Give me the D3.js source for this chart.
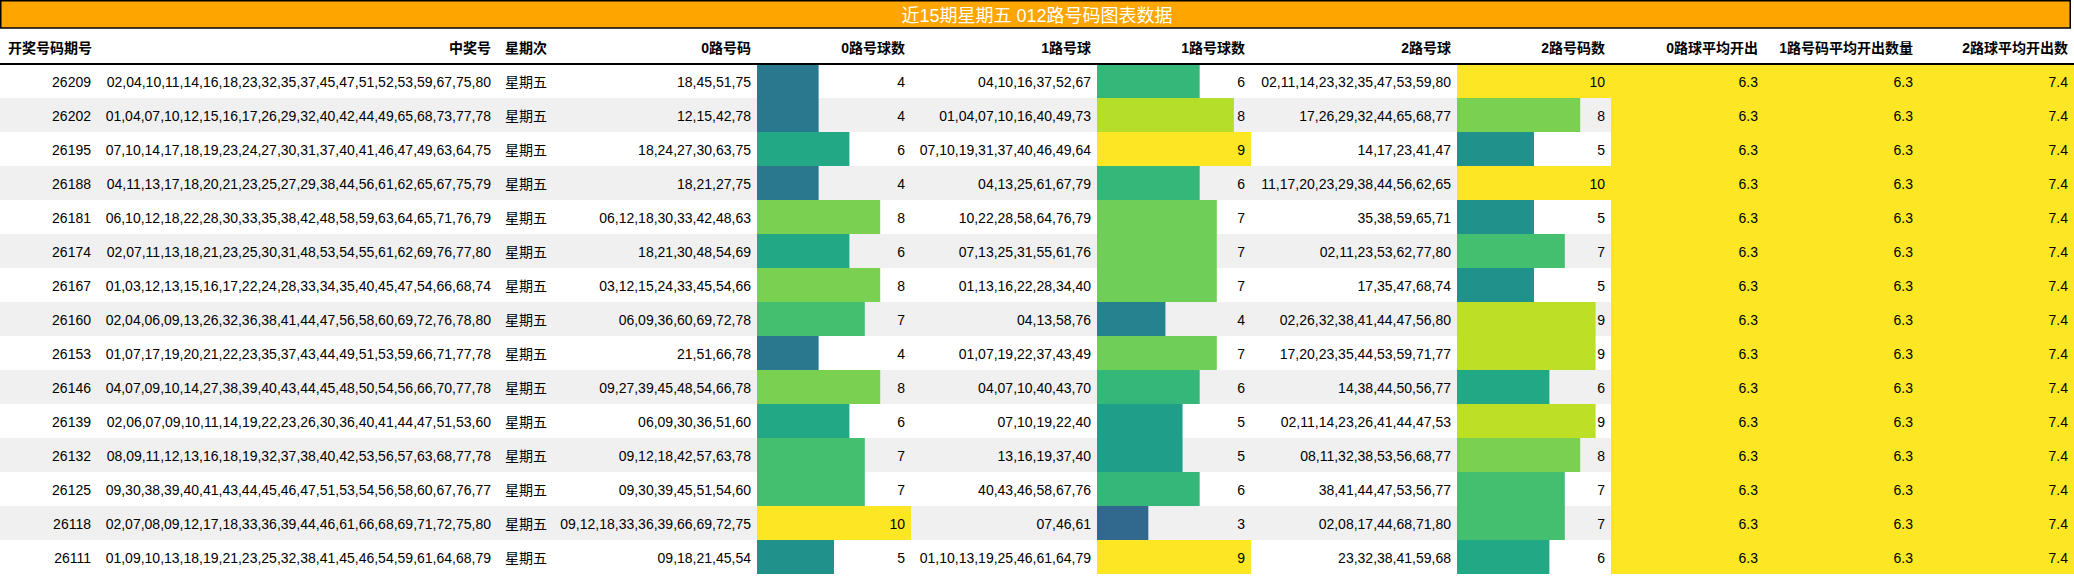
<!DOCTYPE html>
<html><head><meta charset="utf-8">
<script src="https://cdn.jsdelivr.net/npm/d3@7/dist/d3.min.js"></script>
<style>
html,body{margin:0;padding:0;background:#fff;}
svg{display:block;}
text{font-family:"Liberation Sans","Noto Sans CJK SC",sans-serif;}
</style></head>
<body><svg id="chart" width="2074" height="576"></svg>
<script>
// ---------- data ----------
const title = "近15期星期五 012路号码图表数据";
const headers = ["开奖号码期号","中奖号","星期次","0路号码","0路号球数","1路号球","1路号球数","2路号球","2路号码数","0路球平均开出","1路号码平均开出数量","2路球平均开出数"];
const periods = ["26209","26202","26195","26188","26181","26174","26167","26160","26153","26146","26139","26132","26125","26118","26111"];
const winning = [
"02,04,10,11,14,16,18,23,32,35,37,45,47,51,52,53,59,67,75,80",
"01,04,07,10,12,15,16,17,26,29,32,40,42,44,49,65,68,73,77,78",
"07,10,14,17,18,19,23,24,27,30,31,37,40,41,46,47,49,63,64,75",
"04,11,13,17,18,20,21,23,25,27,29,38,44,56,61,62,65,67,75,79",
"06,10,12,18,22,28,30,33,35,38,42,48,58,59,63,64,65,71,76,79",
"02,07,11,13,18,21,23,25,30,31,48,53,54,55,61,62,69,76,77,80",
"01,03,12,13,15,16,17,22,24,28,33,34,35,40,45,47,54,66,68,74",
"02,04,06,09,13,26,32,36,38,41,44,47,56,58,60,69,72,76,78,80",
"01,07,17,19,20,21,22,23,35,37,43,44,49,51,53,59,66,71,77,78",
"04,07,09,10,14,27,38,39,40,43,44,45,48,50,54,56,66,70,77,78",
"02,06,07,09,10,11,14,19,22,23,26,30,36,40,41,44,47,51,53,60",
"08,09,11,12,13,16,18,19,32,37,38,40,42,53,56,57,63,68,77,78",
"09,30,38,39,40,41,43,44,45,46,47,51,53,54,56,58,60,67,76,77",
"02,07,08,09,12,17,18,33,36,39,44,46,61,66,68,69,71,72,75,80",
"01,09,10,13,18,19,21,23,25,32,38,41,45,46,54,59,61,64,68,79"];
const weekday = Array(15).fill("星期五");
const zeroCodes = ["18,45,51,75","12,15,42,78","18,24,27,30,63,75","18,21,27,75","06,12,18,30,33,42,48,63","18,21,30,48,54,69","03,12,15,24,33,45,54,66","06,09,36,60,69,72,78","21,51,66,78","09,27,39,45,48,54,66,78","06,09,30,36,51,60","09,12,18,42,57,63,78","09,30,39,45,51,54,60","09,12,18,33,36,39,66,69,72,75","09,18,21,45,54"];
const zeroCounts = [4,4,6,4,8,6,8,7,4,8,6,7,7,10,5];
const oneCodes = ["04,10,16,37,52,67","01,04,07,10,16,40,49,73","07,10,19,31,37,40,46,49,64","04,13,25,61,67,79","10,22,28,58,64,76,79","07,13,25,31,55,61,76","01,13,16,22,28,34,40","04,13,58,76","01,07,19,22,37,43,49","04,07,10,40,43,70","07,10,19,22,40","13,16,19,37,40","40,43,46,58,67,76","07,46,61","01,10,13,19,25,46,61,64,79"];
const oneCounts = [6,8,9,6,7,7,7,4,7,6,5,5,6,3,9];
const twoCodes = ["02,11,14,23,32,35,47,53,59,80","17,26,29,32,44,65,68,77","14,17,23,41,47","11,17,20,23,29,38,44,56,62,65","35,38,59,65,71","02,11,23,53,62,77,80","17,35,47,68,74","02,26,32,38,41,44,47,56,80","17,20,23,35,44,53,59,71,77","14,38,44,50,56,77","02,11,14,23,26,41,44,47,53","08,11,32,38,53,56,68,77","38,41,44,47,53,56,77","02,08,17,44,68,71,80","23,32,38,41,59,68"];
const twoCounts = [10,8,5,10,5,7,5,9,9,6,9,8,7,7,6];
const avgZero = Array(15).fill(6.3);
const avgOne = Array(15).fill(6.3);
const avgTwo = Array(15).fill(7.4);

// ---------- layout ----------
const W = 2074, titleH = 28, headH = 36, rowH = 34;
const edges = [0,97,497,555,757,911,1097,1251,1457,1611,1764,1919,2074];
const colData = [periods, winning, weekday, zeroCodes, zeroCounts, oneCodes, oneCounts, twoCodes, twoCounts, avgZero, avgOne, avgTwo];
const align = ["right","right","left","right","right","right","right","right","right","right","right","right"];
const headAlign = ["left","right","left","right","right","right","right","right","right","right","right","right"];
const barCols = [4,6,8,9,10,11];
const fmt = [null,null,null,null,d3.format("d"),null,d3.format("d"),null,d3.format("d"),d3.format(".1f"),d3.format(".1f"),d3.format(".1f")];

const svg = d3.select("#chart");
const y = d3.scaleBand().domain(d3.range(periods.length)).range([titleH+headH, titleH+headH+rowH*periods.length]);

// row stripes
svg.append("g").selectAll("rect").data(periods).join("rect")
  .attr("x",0).attr("width",W).attr("y",(d,i)=>y(i)).attr("height",y.bandwidth())
  .attr("fill",(d,i)=> i%2 ? "#f0f0f0" : "#ffffff");

// bars
barCols.forEach(c=>{
  const vals = colData[c];
  const max = d3.max(vals);
  const xs = d3.scaleLinear().domain([0,max]).range([edges[c], edges[c+1]]);
  const color = d3.scaleSequential(d3.interpolateViridis).domain([0,max]);
  svg.append("g").selectAll("rect").data(vals).join("rect")
    .attr("x",xs(0)).attr("y",(d,i)=>y(i)).attr("height",y.bandwidth())
    .attr("width",d=>xs(d)-xs(0)).attr("fill",d=>color(d));
});

// cell text
colData.forEach((vals,c)=>{
  const left = align[c]==="left";
  svg.append("g").selectAll("text").data(vals).join("text")
    .attr("x", left ? edges[c]+8 : edges[c+1]-6)
    .attr("y",(d,i)=>y(i)+y.bandwidth()/2+1)
    .attr("dominant-baseline","central")
    .attr("text-anchor", left ? "start" : "end")
    .attr("font-size",14).attr("fill","#000")
    .text(d=> fmt[c] ? fmt[c](d) : d);
});

// header
svg.append("g").selectAll("text").data(headers).join("text")
  .attr("x",(d,c)=> headAlign[c]==="left" ? edges[c]+8 : edges[c+1]-6)
  .attr("y",titleH+headH/2+2)
  .attr("dominant-baseline","central")
  .attr("text-anchor",(d,c)=> headAlign[c]==="left" ? "start" : "end")
  .attr("font-size",14).attr("font-weight","bold").attr("fill","#000")
  .text(d=>d);
svg.append("line").attr("x1",0).attr("x2",W).attr("y1",titleH+headH).attr("y2",titleH+headH)
  .attr("stroke","#000").attr("stroke-width",2);

// title bar
svg.append("rect").attr("x",0.75).attr("y",0.75).attr("width",2069.5).attr("height",titleH-0.75)
  .attr("fill","#FFA500").attr("stroke","#000").attr("stroke-width",1.5);
svg.append("text").attr("x",W/2).attr("y",titleH/2+1.5)
  .attr("dominant-baseline","central").attr("text-anchor","middle")
  .attr("font-size",18).attr("fill","#fff").text(title);
</script></body></html>
